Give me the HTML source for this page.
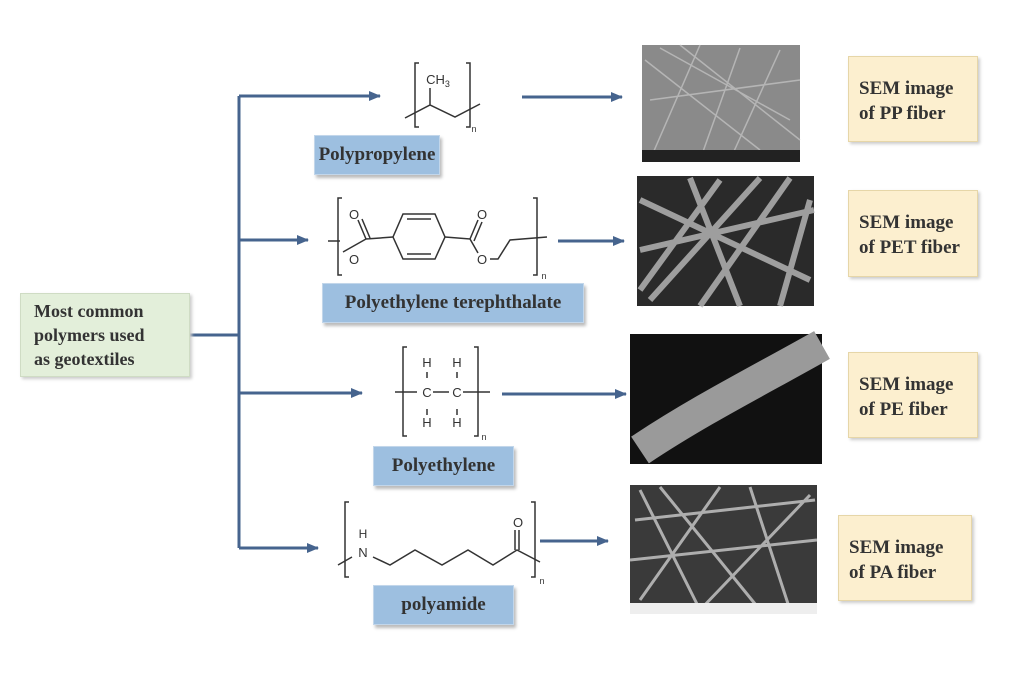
<!DOCTYPE html>
<html><head><meta charset="utf-8"><style>
body{margin:0;background:#fff;}
.wrap{position:relative;width:1024px;height:677px;overflow:hidden;font-family:"Liberation Serif",serif;}
.box{position:absolute;box-sizing:border-box;font-weight:bold;color:#333;}
.blue{background:#9dbfe0;border:1px solid #c2d6ea;box-shadow:2px 3px 3px #bbb;font-size:19px;display:flex;align-items:center;justify-content:center;}
.yel{background:#fcefcf;border:1px solid #e6d6a8;box-shadow:2px 2px 3px #ccc;font-size:19px;line-height:25px;padding:19px 0 0 10px;}
.green{background:#e3efda;border:1px solid #cfdcc4;box-shadow:2px 2px 3px #ccc;font-size:18px;line-height:24px;padding:5px 0 0 13px;}
</style></head><body><div class="wrap">
<svg width="1024" height="677" style="position:absolute;left:0;top:0">
<defs><marker id="b" markerWidth="12" markerHeight="12" refX="11" refY="6" orient="auto" markerUnits="userSpaceOnUse"><path d="M0,1L12,6L0,11z" fill="#46648e"/></marker></defs>
<g stroke="#46648e" stroke-width="3" fill="none">
<path d="M190,335H239"/><path d="M239,96V548"/>
<path d="M239,96H380" marker-end="url(#b)"/>
<path d="M239,240H308" marker-end="url(#b)"/>
<path d="M239,393H362" marker-end="url(#b)"/>
<path d="M239,548H318" marker-end="url(#b)"/>
<path d="M522,97H622" marker-end="url(#b)"/>
<path d="M558,241H624" marker-end="url(#b)"/>
<path d="M502,394H626" marker-end="url(#b)"/>
<path d="M540,541H608" marker-end="url(#b)"/>
</g>
<g stroke="#333" stroke-width="1.5" fill="none">
<path d="M419,63h-4v64h4M466,63h4v64h-4"/>
<path d="M405,118L430,105L455,117L480,104M430,105V88"/>
<path d="M342,198h-4v77h4M533,198h4v77h-4"/>
<path d="M328,241h12M343,252L366,239M366,239L358,220M370,238L362,219M366,239L393,237"/>
<path d="M393,237L403,214L435,214L445,237L435,259L403,259Z"/>
<path d="M407,219h24M407,254h24"/>
<path d="M445,237L470,239L478,220M474,241L482,222M470,239L478,253M490,259L498,259L510,240L547,237"/>
<path d="M407,347h-4v89h4M474,347h4v89h-4"/>
<path d="M395,392h22M433,392h16M463,392h27M427,372v6M457,372v6M427,409v6M457,409v6"/>
<path d="M349,502h-4v75h4M531,502h4v75h-4"/>
<path d="M338,565L352,557M373,557L390,565L415,550L442,565L468,550L493,565L517,550L540,562M515,550V530M519,550V530"/>
</g>
<g font-family="Liberation Sans,sans-serif" fill="#333" font-size="13" text-anchor="middle">
<text x="438" y="84">CH<tspan font-size="9" dy="3">3</tspan></text>
<text x="474" y="132" font-size="9">n</text>
<text x="354" y="219">O</text><text x="354" y="264">O</text>
<text x="482" y="219">O</text><text x="482" y="264">O</text>
<text x="544" y="279" font-size="9">n</text>
<text x="427" y="367">H</text><text x="457" y="367">H</text>
<text x="427" y="397">C</text><text x="457" y="397">C</text>
<text x="427" y="427">H</text><text x="457" y="427">H</text>
<text x="484" y="440" font-size="9">n</text>
<text x="363" y="538" font-size="12">H</text><text x="363" y="557">N</text>
<text x="518" y="527">O</text><text x="542" y="584" font-size="9">n</text>
</g>
<rect x="642" y="45" width="158" height="117" fill="#8a8a8a"/>
<g stroke="#c8c8c8" stroke-width="1.5" opacity=".7"><path d="M645,60L760,150M660,48L790,120M700,45L650,160M740,48L700,160M780,50L730,160M650,100L800,80M680,45L800,140"/></g>
<rect x="642" y="150" width="158" height="12" fill="#222"/>
<rect x="637" y="176" width="177" height="130" fill="#2a2a2a"/>
<g stroke="#bbb" stroke-width="6" opacity=".8"><path d="M640,200L810,280M650,300L760,178M700,306L790,178M640,250L814,210M690,178L740,306M780,306L810,200M640,290L720,180"/></g>
<rect x="630" y="334" width="192" height="130" fill="#111"/>
<path d="M640,450C700,410 760,380 822,345" stroke="#9a9a9a" stroke-width="32" fill="none"/>
<rect x="630" y="485" width="187" height="129" fill="#3a3a3a"/>
<g stroke="#ccc" stroke-width="3" opacity=".8"><path d="M635,520L815,500M640,600L720,487M660,487L760,610M700,610L810,495M630,560L817,540M750,487L790,610M640,490L700,610"/></g>
<rect x="630" y="603" width="187" height="11" fill="#eee"/>
</svg>
<div class="box green" style="left:20px;top:293px;width:170px;height:84px">Most common<br>polymers used<br>as geotextiles</div>
<div class="box blue" style="left:314px;top:135px;width:126px;height:40px">Polypropylene</div>
<div class="box blue" style="left:322px;top:283px;width:262px;height:40px">Polyethylene terephthalate</div>
<div class="box blue" style="left:373px;top:446px;width:141px;height:40px">Polyethylene</div>
<div class="box blue" style="left:373px;top:585px;width:141px;height:40px">polyamide</div>
<div class="box yel" style="left:848px;top:56px;width:130px;height:86px">SEM image<br>of PP fiber</div>
<div class="box yel" style="left:848px;top:190px;width:130px;height:87px">SEM image<br>of PET fiber</div>
<div class="box yel" style="left:848px;top:352px;width:130px;height:86px">SEM image<br>of PE fiber</div>
<div class="box yel" style="left:838px;top:515px;width:134px;height:86px">SEM image<br>of PA fiber</div>
</div></body></html>
